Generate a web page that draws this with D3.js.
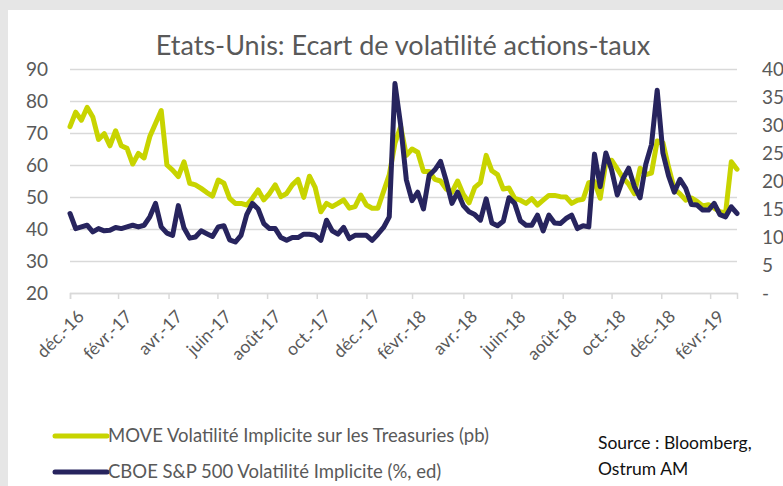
<!DOCTYPE html>
<html><head><meta charset="utf-8">
<script src="https://cdnjs.cloudflare.com/ajax/libs/d3/7.8.5/d3.min.js"></script>
<style>body{margin:0;background:#fff;} svg{display:block;font-family:Lato,'Open Sans',sans-serif;}</style>
</head><body><svg id="c" width="783" height="486"></svg>
<script>
// ---- data (weekly) ----
const dates = ["2016-12-30","2017-01-06","2017-01-13","2017-01-20","2017-01-27","2017-02-03","2017-02-10","2017-02-17","2017-02-24","2017-03-03","2017-03-10","2017-03-17","2017-03-24","2017-03-31","2017-04-07","2017-04-14","2017-04-21","2017-04-28","2017-05-05","2017-05-12","2017-05-19","2017-05-26","2017-06-02","2017-06-09","2017-06-16","2017-06-23","2017-06-30","2017-07-07","2017-07-14","2017-07-21","2017-07-28","2017-08-04","2017-08-11","2017-08-18","2017-08-25","2017-09-01","2017-09-08","2017-09-15","2017-09-22","2017-09-29","2017-10-06","2017-10-13","2017-10-20","2017-10-27","2017-11-03","2017-11-10","2017-11-17","2017-11-24","2017-12-01","2017-12-08","2017-12-15","2017-12-22","2017-12-29","2018-01-05","2018-01-12","2018-01-19","2018-01-26","2018-02-02","2018-02-09","2018-02-16","2018-02-23","2018-03-02","2018-03-09","2018-03-16","2018-03-23","2018-03-30","2018-04-06","2018-04-13","2018-04-20","2018-04-27","2018-05-04","2018-05-11","2018-05-18","2018-05-25","2018-06-01","2018-06-08","2018-06-15","2018-06-22","2018-06-29","2018-07-06","2018-07-13","2018-07-20","2018-07-27","2018-08-03","2018-08-10","2018-08-17","2018-08-24","2018-08-31","2018-09-07","2018-09-14","2018-09-21","2018-09-28","2018-10-05","2018-10-12","2018-10-19","2018-10-26","2018-11-02","2018-11-09","2018-11-16","2018-11-23","2018-11-30","2018-12-07","2018-12-14","2018-12-21","2018-12-28","2019-01-04","2019-01-11","2019-01-18","2019-01-25","2019-02-01","2019-02-08","2019-02-15","2019-02-22","2019-03-01","2019-03-08","2019-03-15","2019-03-22","2019-03-29"];
const moveValues = [72,76.5,74,78,75,68,69.8,66,70.7,66,65.2,60.3,63.6,62.2,68.9,73,77,60,58.4,56.4,61,54.3,53.8,52.7,51.4,50.3,55.3,54.3,49.6,48,48,47.5,49.6,52.2,49.1,51.1,53.8,50.1,51.1,53.8,55.5,49.9,56.5,53,45.4,48,47,48,49.1,46.5,47,50.6,47.5,46.5,46.5,51.7,56.9,66.8,72,63,65,64,58,58,55.5,55,52.5,51.5,55,50.8,48.2,53,54.5,63,58.2,57,52.5,52.8,49.6,49,48,49.5,47.5,49,50.5,50.5,50.1,50,48,49,49.3,54.5,54.8,49.6,61,61.5,58.8,56,54,51,59,57,57.5,67.5,67,59.3,52.5,51,49,49.7,48.6,47.2,47.6,46.5,45.4,45,61,58.7];
const vixValues = [14.2,11.5,11.8,12.1,10.9,11.5,11.1,11.2,11.7,11.5,11.8,12.1,11.8,12.1,13.6,16,11.8,10.7,10.3,15.6,11.6,9.8,10,11.1,10.6,10.1,11.8,12,9.5,9.1,10.3,14,16,15,12.4,11.5,11.5,9.9,9.4,9.9,9.9,10.5,10.5,10.3,9.4,13,11.1,10.5,11.7,9.7,10.3,10.3,10.3,9.4,10.5,11.7,13.6,37.4,30,20.2,16.5,18,15,21,22,23.5,20,16,18,15.6,14.5,14,13,16.8,12.5,12,12.8,17,16,12.9,12.1,12.1,13.9,11.1,13.9,12.5,12.4,13.3,13.9,11.5,12,11.8,24.8,19,25,22,17.5,20.4,22.3,19,17,23,26.5,36.2,25,20.9,18,20.3,18.7,15.8,15.7,14.8,14.8,16,14,13.6,15.4,14.2];
const leftTicks = [20,30,40,50,60,70,80,90];
const rightTicks = [0,5,10,15,20,25,30,35,40];
const rightTickLabels = ["-","5","10","15","20","25","30","35","40"];
const xTickDates = ["2016-12-30","2017-02-27","2017-04-30","2017-06-29","2017-08-29","2017-10-29","2017-12-29","2018-02-23","2018-04-27","2018-06-25","2018-08-27","2018-10-26","2018-12-26","2019-02-24"];
const xTickLabels = ["déc.-16","févr.-17","avr.-17","juin-17","août-17","oct.-17","déc.-17","févr.-18","avr.-18","juin-18","août-18","oct.-18","déc.-18","févr.-19"];
const seriesNames = ["MOVE Volatilité Implicite sur les Treasuries (pb)","CBOE S&P 500 Volatilité Implicite (%, ed)"];
const sourceLines = ["Source : Bloomberg,","Ostrum AM"];
const title = "Etats-Unis: Ecart de volatilité actions-taux";

// ---- drawing ----
const parse = d3.timeParse("%Y-%m-%d");
const svg = d3.select("#c");
const colMove = "#c8d400", colVix = "#27245e", textCol = "#595959";

svg.append("rect").attr("x",0).attr("y",0).attr("width",783).attr("height",10).attr("fill","#e6e6e6");
svg.append("rect").attr("x",0).attr("y",0).attr("width",8).attr("height",486).attr("fill","#e6e6e6");

const x = d3.scaleTime().domain([parse(dates[0]), parse(dates[dates.length-1])]).range([70,737]);
const yL = d3.scaleLinear().domain([20,90]).range([293,69]);
const yR = d3.scaleLinear().domain([0,40]).range([293,69]);

svg.append("text").attr("x",403).attr("y",55).attr("text-anchor","middle")
  .attr("font-size",27).attr("fill",textCol).text(title);

// gridlines + left axis
const gl = svg.append("g").attr("transform","translate(70,0)")
  .call(d3.axisLeft(yL).tickValues(leftTicks).tickSize(-667).tickFormat(""));
gl.select(".domain").remove();
gl.selectAll(".tick line").attr("stroke","#d9d9d9").attr("stroke-width",1.5);

const la = svg.append("g").attr("transform","translate(48,0)")
  .call(d3.axisLeft(yL).tickValues(leftTicks).tickSize(0).tickPadding(0));
la.select(".domain").remove();
la.selectAll("text").attr("font-size",19).attr("fill",textCol).attr("font-family","Lato");

const ra = svg.append("g").attr("transform","translate(762,0)")
  .call(d3.axisRight(yR).tickValues(rightTicks).tickSize(0).tickPadding(0).tickFormat((d,i)=>rightTickLabels[i]));
ra.select(".domain").remove();
ra.selectAll("text").attr("font-size",19).attr("fill",textCol).attr("font-family","Lato");

// x axis
const xa = svg.append("g").attr("transform","translate(0,293)")
  .call(d3.axisBottom(x).tickValues(xTickDates.map(parse)).tickSize(6).tickFormat((d,i)=>xTickLabels[i]));
xa.select(".domain").attr("stroke","#d9d9d9").attr("stroke-width",1.5);
xa.selectAll(".tick line").attr("stroke","#d9d9d9").attr("stroke-width",1.5);
xa.selectAll("text").attr("font-size",17.5).attr("fill",textCol).attr("font-family","Lato")
  .attr("text-anchor","end").attr("dy","0.35em")
  .attr("transform","translate(4,14) rotate(-45)");

// lines
const rows = dates.map((d,i)=>({d:parse(d), m:moveValues[i], v:vixValues[i]}));
svg.append("path").datum(rows).attr("fill","none").attr("stroke",colMove).attr("stroke-width",5)
  .attr("stroke-linejoin","round").attr("stroke-linecap","round")
  .attr("d", d3.line().x(r=>x(r.d)).y(r=>yL(r.m)));
svg.append("path").datum(rows).attr("fill","none").attr("stroke",colVix).attr("stroke-width",5)
  .attr("stroke-linejoin","round").attr("stroke-linecap","round")
  .attr("d", d3.line().x(r=>x(r.d)).y(r=>yR(r.v)));

// legend
const leg = svg.append("g");
[colMove,colVix].forEach((c,i)=>{
  const yy = 436 + i*36;
  leg.append("line").attr("x1",55).attr("x2",107).attr("y1",yy).attr("y2",yy)
    .attr("stroke",c).attr("stroke-width",5).attr("stroke-linecap","round");
  leg.append("text").attr("x",108).attr("y",yy).attr("dy","0.35em").attr("font-size",18.5)
    .attr("fill",textCol).text(seriesNames[i]);
});
sourceLines.forEach((s,i)=>{
  svg.append("text").attr("x",598).attr("y",443+i*26).attr("dy","0.35em").attr("font-size",17.5)
    .attr("fill","#111").text(s);
});
</script></body></html>
